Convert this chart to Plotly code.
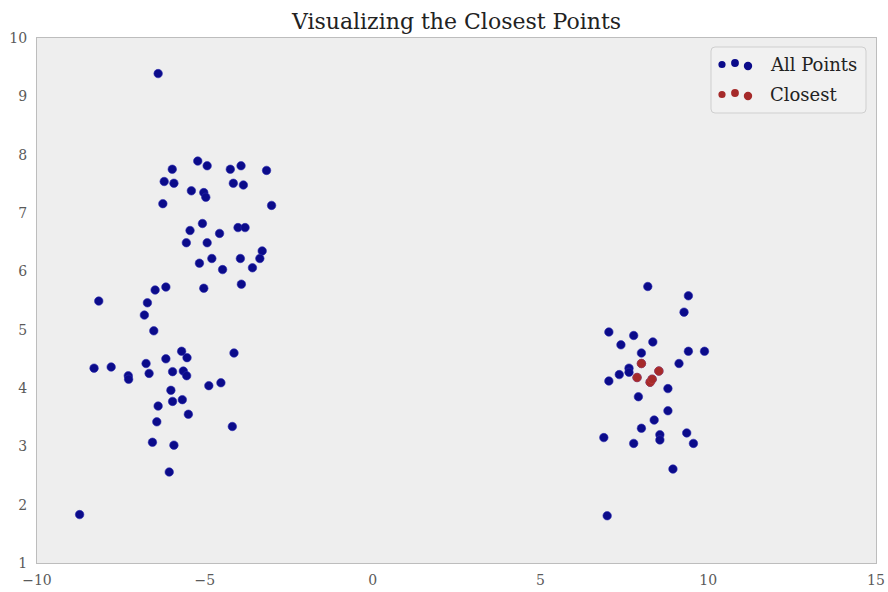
import plotly.graph_objects as go

# All sampled points: two blobs on the left, one on the right
all_x = [
    -6.39, -5.21, -4.93, -5.97, -4.24, -3.92, -3.16, -6.21, -5.92, -4.15,
    -3.85, -5.40, -5.03, -4.97, -6.25, -3.01, -5.07, -5.44, -4.56, -4.01,
    -3.80, -5.55, -4.93, -3.29, -3.36, -3.94, -4.79, -5.16, -3.58, -4.47,
    -3.91, -5.03, -6.16, -6.48, -8.16, -6.71, -6.80,
    -6.52, -5.69, -5.53, -4.13, -6.16, -6.75, -8.30, -7.79, -7.28, -7.27,
    -6.66, -5.96, -5.64, -5.54, -4.88, -4.52, -6.01, -5.96, -5.67, -6.39,
    -5.49, -6.43, -4.18, -6.56, -5.92, -6.06, -8.73,
    8.20, 9.41, 9.28, 7.04, 7.78, 8.35, 7.40, 8.01, 9.41, 9.89,
    9.13, 7.64, 7.64, 7.35, 7.04, 8.80, 7.92, 8.80, 8.39, 8.01,
    6.89, 8.56, 8.56, 9.36, 7.78, 9.56, 8.95, 6.99,
    8.01, 8.53, 7.88, 8.27, 8.33,
]
all_y = [
    9.39, 7.89, 7.81, 7.75, 7.75, 7.81, 7.73, 7.54, 7.51, 7.51,
    7.48, 7.38, 7.35, 7.27, 7.16, 7.13, 6.82, 6.70, 6.65, 6.75,
    6.75, 6.49, 6.49, 6.35, 6.22, 6.22, 6.22, 6.14, 6.06, 6.03,
    5.78, 5.71, 5.73, 5.68, 5.49, 5.46, 5.25,
    4.98, 4.63, 4.52, 4.60, 4.50, 4.42, 4.34, 4.36, 4.21, 4.15,
    4.25, 4.28, 4.29, 4.21, 4.04, 4.09, 3.96, 3.77, 3.80, 3.69,
    3.55, 3.42, 3.34, 3.07, 3.02, 2.56, 1.83,
    5.74, 5.58, 5.30, 4.96, 4.90, 4.79, 4.74, 4.60, 4.63, 4.63,
    4.42, 4.34, 4.27, 4.23, 4.12, 3.99, 3.85, 3.61, 3.45, 3.31,
    3.15, 3.20, 3.11, 3.23, 3.05, 3.05, 2.61, 1.81,
    4.42, 4.29, 4.18, 4.10, 4.15,
]

# Nearest neighbours of the query location
closest_x = [8.01, 8.53, 7.88, 8.27, 8.33]
closest_y = [4.42, 4.29, 4.18, 4.10, 4.15]

x_ticks = [-10, -5, 0, 5, 10, 15]
y_ticks = [1, 2, 3, 4, 5, 6, 7, 8, 9, 10]

BLUE = "#0B0B8A"
RED = "#A52A2A"
SERIF = "DejaVu Serif, Liberation Serif, serif"

fig = go.Figure()
fig.add_trace(go.Scatter(
    x=all_x, y=all_y, mode="markers", name="All Points",
    marker=dict(color=BLUE, size=8.5, line=dict(width=0.6, color="#2A2AB0")),
))
fig.add_trace(go.Scatter(
    x=closest_x, y=closest_y, mode="markers", name="Closest",
    marker=dict(color=RED, size=8.5, line=dict(width=0.6, color="#C04040")),
))

# Hand-built legend box with three-dot glyphs
L, R, T, B = 37, 876, 38, 563
W, H = R - L, B - T


def px(xp):
    return (xp - L) / W


def py(yp):
    return (B - yp) / H


bx0, bx1, by0, by1 = px(711), px(866), py(113), py(47)
rx, ry = 4 / W, 4 / H
box_path = (
    f"M {bx0 + rx},{by0} L {bx1 - rx},{by0} Q {bx1},{by0} {bx1},{by0 + ry} "
    f"L {bx1},{by1 - ry} Q {bx1},{by1} {bx1 - rx},{by1} "
    f"L {bx0 + rx},{by1} Q {bx0},{by1} {bx0},{by1 - ry} "
    f"L {bx0},{by0 + ry} Q {bx0},{by0} {bx0 + rx},{by0} Z"
)
shapes = [dict(type="path", path=box_path, xref="paper", yref="paper",
               fillcolor="rgba(241,241,241,0.9)",
               line=dict(color="#CFCFCF", width=1), layer="above")]

glyph_dx = [722, 735, 748]
glyph_dy = [0.5, -1.0, 2.0]
glyph_r = [3.6, 3.9, 4.2]
annotations = []
for row_y, color, label in [(64, BLUE, "All Points"), (94, RED, "Closest")]:
    for gx, gdy, gr in zip(glyph_dx, glyph_dy, glyph_r):
        shapes.append(dict(
            type="circle", xref="paper", yref="paper",
            xsizemode="pixel", ysizemode="pixel",
            xanchor=px(gx), yanchor=py(row_y + gdy),
            x0=-gr, x1=gr, y0=-gr, y1=gr,
            fillcolor=color, line=dict(width=0), layer="above",
        ))
    annotations.append(dict(
        x=px(768), y=py(row_y), xref="paper", yref="paper",
        text=label, showarrow=False, xanchor="left", yanchor="middle",
        font=dict(family=SERIF, size=18, color="#222222"),
    ))

axis_common = dict(
    showgrid=False, zeroline=False, showline=True, mirror=True,
    linecolor="#BDBDBD", linewidth=1, ticks="", automargin=False,
    tickfont=dict(family=SERIF, size=14, color="#5A5A5A"),
)

fig.update_layout(
    width=888, height=592,
    margin=dict(l=L, r=888 - R, t=T, b=592 - B),
    paper_bgcolor="white", plot_bgcolor="#EEEEEE",
    showlegend=False,
    title=dict(text="Visualizing the Closest Points", x=(L + W / 2) / 888,
               xanchor="center", y=1 - 21 / 592, yanchor="middle",
               font=dict(family=SERIF, size=22, color="#222222")),
    xaxis=dict(range=[-10, 15], tickvals=x_ticks, ticklabelstandoff=4,
               **axis_common),
    yaxis=dict(range=[1, 10], tickvals=y_ticks, ticklabelstandoff=6,
               **axis_common),
    shapes=shapes, annotations=annotations,
)

fig.write_html("out.html")
